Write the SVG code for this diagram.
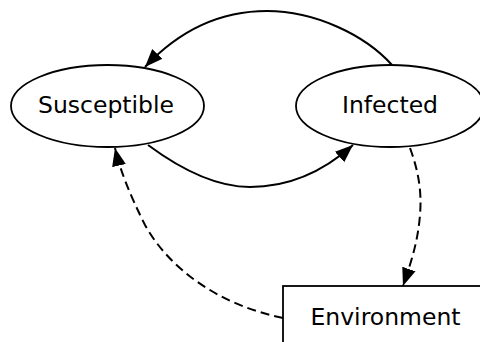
<svg xmlns="http://www.w3.org/2000/svg" width="480" height="342" viewBox="0 0 480 342">
<defs>
<style>
.node ellipse, .node rect { fill: #fff; stroke: #000; stroke-width: 1.8; }
.lbl { font-family: "DejaVu Sans", sans-serif; font-size: 23.5px; fill: #000; text-anchor: middle; }
.edge { fill: none; stroke: #000; stroke-width: 2; marker-end: url(#arr); }
.dash { stroke-dasharray: 9,5; }
</style>
<marker id="arr" markerUnits="userSpaceOnUse" markerWidth="20" markerHeight="18" viewBox="0 -9 20 18" refX="18" refY="0" orient="auto">
<path d="M0,-7 L18,0 L0,7 z" fill="#000"/>
</marker>
</defs>
<rect width="480" height="342" fill="#fff"/>
<g id="connectors">
<path class="edge" d="M392,65 C365,35 315,11 267,11 C215,11 175,35 145,67"/>
<path class="edge" d="M148,145 C175,165 212,187 250,187 C290,187 325,170 353,145"/>
<path class="edge dash" d="M410,148 C418,170 422,190 420,215 C418,240 412,260 403,286"/>
<path class="edge dash" d="M283,318 C220,305 170,270 145,225 C130,195 120,170 115,148"/>
</g>
<g id="susceptible" class="node">
<ellipse cx="107.5" cy="106" rx="96.5" ry="41"/>
<text class="lbl" x="106" y="113">Susceptible</text>
</g>
<g id="infected" class="node">
<ellipse cx="390" cy="106" rx="94" ry="41"/>
<text class="lbl" x="390" y="113">Infected</text>
</g>
<g id="environment" class="node">
<rect x="283" y="286" width="220" height="80"/>
<text class="lbl" x="385.5" y="325">Environment</text>
</g>
</svg>
